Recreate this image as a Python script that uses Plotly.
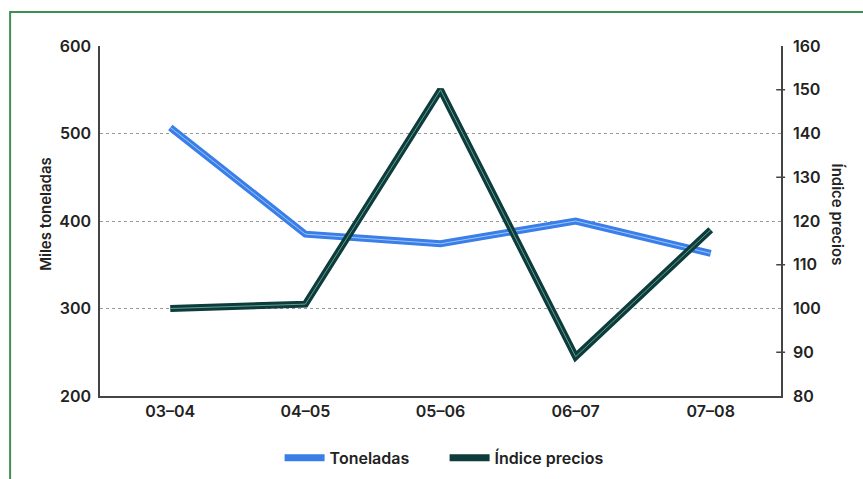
import plotly.graph_objects as go

# Campaigns and series
campanas = ["03–04", "04–05", "05–06", "06–07", "07–08"]
toneladas = [507, 385, 374, 400, 363]          # miles de toneladas
indice_precios = [100, 101, 150, 89, 118]      # índice de precios
ticks_derecha = [90, 110, 130, 150]            # marcas sobre el eje derecho

FONT = "Inter"
TXT = "#222222"
AXIS = "#444444"

fig = go.Figure()

# Each series is drawn as a thick base stroke plus a thin highlight stroke
fig.add_trace(go.Scatter(
    x=campanas, y=toneladas, name="Toneladas", mode="lines",
    line=dict(color="#3a7ee8", width=7), showlegend=True, legendrank=1))
fig.add_trace(go.Scatter(
    x=campanas, y=toneladas, mode="lines", hoverinfo="skip",
    line=dict(color="#9cc6ff", width=1), showlegend=False))
fig.add_trace(go.Scatter(
    x=campanas, y=indice_precios, name="Índice precios", mode="lines",
    line=dict(color="#0d3c3a", width=7), yaxis="y2", showlegend=True, legendrank=2))
fig.add_trace(go.Scatter(
    x=campanas, y=indice_precios, mode="lines", hoverinfo="skip",
    line=dict(color="#5f9f98", width=1), yaxis="y2", showlegend=False))

shapes = [
    # green frame around the whole figure
    dict(type="rect", xref="paper", yref="paper",
         x0=-0.132, x1=1.3, y0=-0.4, y1=1.097,
         line=dict(color="#3f8f55", width=2), fillcolor="rgba(0,0,0,0)", layer="below"),
]
for v in ticks_derecha:
    shapes.append(dict(type="line", xref="paper", yref="y2",
                       x0=0.993, x1=1.006, y0=v, y1=v,
                       line=dict(color=AXIS, width=1.5)))

fig.update_layout(
    width=863, height=479,
    margin=dict(l=100, r=82, t=46, b=83, autoexpand=False),
    paper_bgcolor="white", plot_bgcolor="white",
    font=dict(family=FONT, size=16, color=TXT, weight=600),
    xaxis=dict(
        type="category", range=[-0.52, 4.52],
        showline=True, linecolor=AXIS, linewidth=1.5,
        ticks="", showgrid=False, tickfont=dict(size=16, weight=600),
    ),
    yaxis=dict(
        range=[200, 600], dtick=100,
        showline=True, linecolor=AXIS, linewidth=1.5,
        ticks="", showgrid=True, gridcolor="#9a9a9a", griddash="dot", gridwidth=1,
        zeroline=False, tickfont=dict(size=16, weight=600), ticklabelstandoff=4,
    ),
    yaxis2=dict(
        overlaying="y", side="right", range=[80, 160], dtick=10,
        showline=True, linecolor=AXIS, linewidth=1.5,
        ticks="", showgrid=False, zeroline=False,
        tickfont=dict(size=16, weight=600), ticklabelstandoff=7,
    ),
    legend=dict(
        orientation="h", x=0.506, xanchor="center", y=-0.128, yanchor="top",
        font=dict(size=16, weight=600), itemwidth=40, entrywidth=110,
        tracegroupgap=0,
    ),
    shapes=shapes,
    annotations=[
        dict(text="Miles toneladas", xref="paper", yref="paper",
             x=-0.081, y=0.52, xanchor="center", yanchor="middle",
             textangle=-90, showarrow=False,
             font=dict(size=15, weight=600, color=TXT)),
        dict(text="Índice precios", xref="paper", yref="paper",
             x=1.083, y=0.52, xanchor="center", yanchor="middle",
             textangle=90, showarrow=False,
             font=dict(size=15, weight=600, color=TXT)),
    ],
)

fig.write_html("out.html")
